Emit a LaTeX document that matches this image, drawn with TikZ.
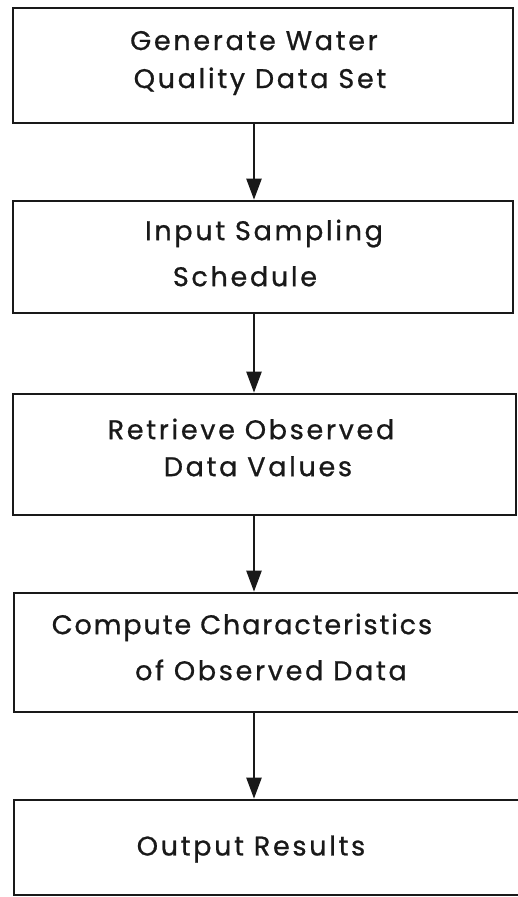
\documentclass[tikz,border=0pt]{standalone}
\usepackage{fontspec}
\setmainfont{Poppins}
\usetikzlibrary{arrows.meta}
\begin{document}
\begin{tikzpicture}[x=1pt,y=-1pt,
  stepbox/.style={draw=black!90, line width=2.6pt, rectangle, inner sep=0pt},
  steptext/.style={align=center, inner sep=0pt, text=black!90,
    font=\fontsize{27}{38}\selectfont\addfontfeatures{LetterSpace=10,FakeBold=0.8}},
  flow/.style={draw=black!90, line width=2.2pt,
    -{Triangle[length=21pt,width=15pt]}}]
\useasboundingbox (0,0) rectangle (517,897);
\fill[white] (0,0) rectangle (517,897);

% process boxes
\node[stepbox, minimum width=500pt, minimum height=115pt] (b1) at (263,65.5) {};
\node[stepbox, minimum width=500pt, minimum height=112pt] (b2) at (263,257) {};
\node[stepbox, minimum width=503pt, minimum height=121pt] (b3) at (264.5,454.5) {};
\node[stepbox, minimum width=511pt, minimum height=119pt] (b4) at (269.5,652.5) {};
\node[stepbox, minimum width=511pt, minimum height=95pt] (b5) at (269.5,847.5) {};

% box labels
\node[steptext] (t1) at (254,63) {Generate Water\\\hspace*{12pt}Quality Data Set};
\node[steptext] (t2) at (264,253) {Input Sampling\\[8pt]\hspace*{-38pt}Schedule};
\node[steptext] (t3) at (251,447.5) {Retrieve Observed\\[-1pt]\hspace*{14pt}Data Values};
\node[steptext] (t4) at (271,647) {\hspace*{-58pt}{\addfontfeatures{LetterSpace=7}Compute Characteristics}\\[8pt]of Observed Data};
\node[steptext] (t5) at (251,849) {Output Results};

% flow between steps
\coordinate (ax) at (254,0);
\draw[flow] (b1.south -| ax) -- (b2.north -| ax);
\draw[flow] (b2.south -| ax) -- (b3.north -| ax);
\draw[flow] (b3.south -| ax) -- (b4.north -| ax);
\draw[flow] (b4.south -| ax) -- (b5.north -| ax);
\end{tikzpicture}
\end{document}
